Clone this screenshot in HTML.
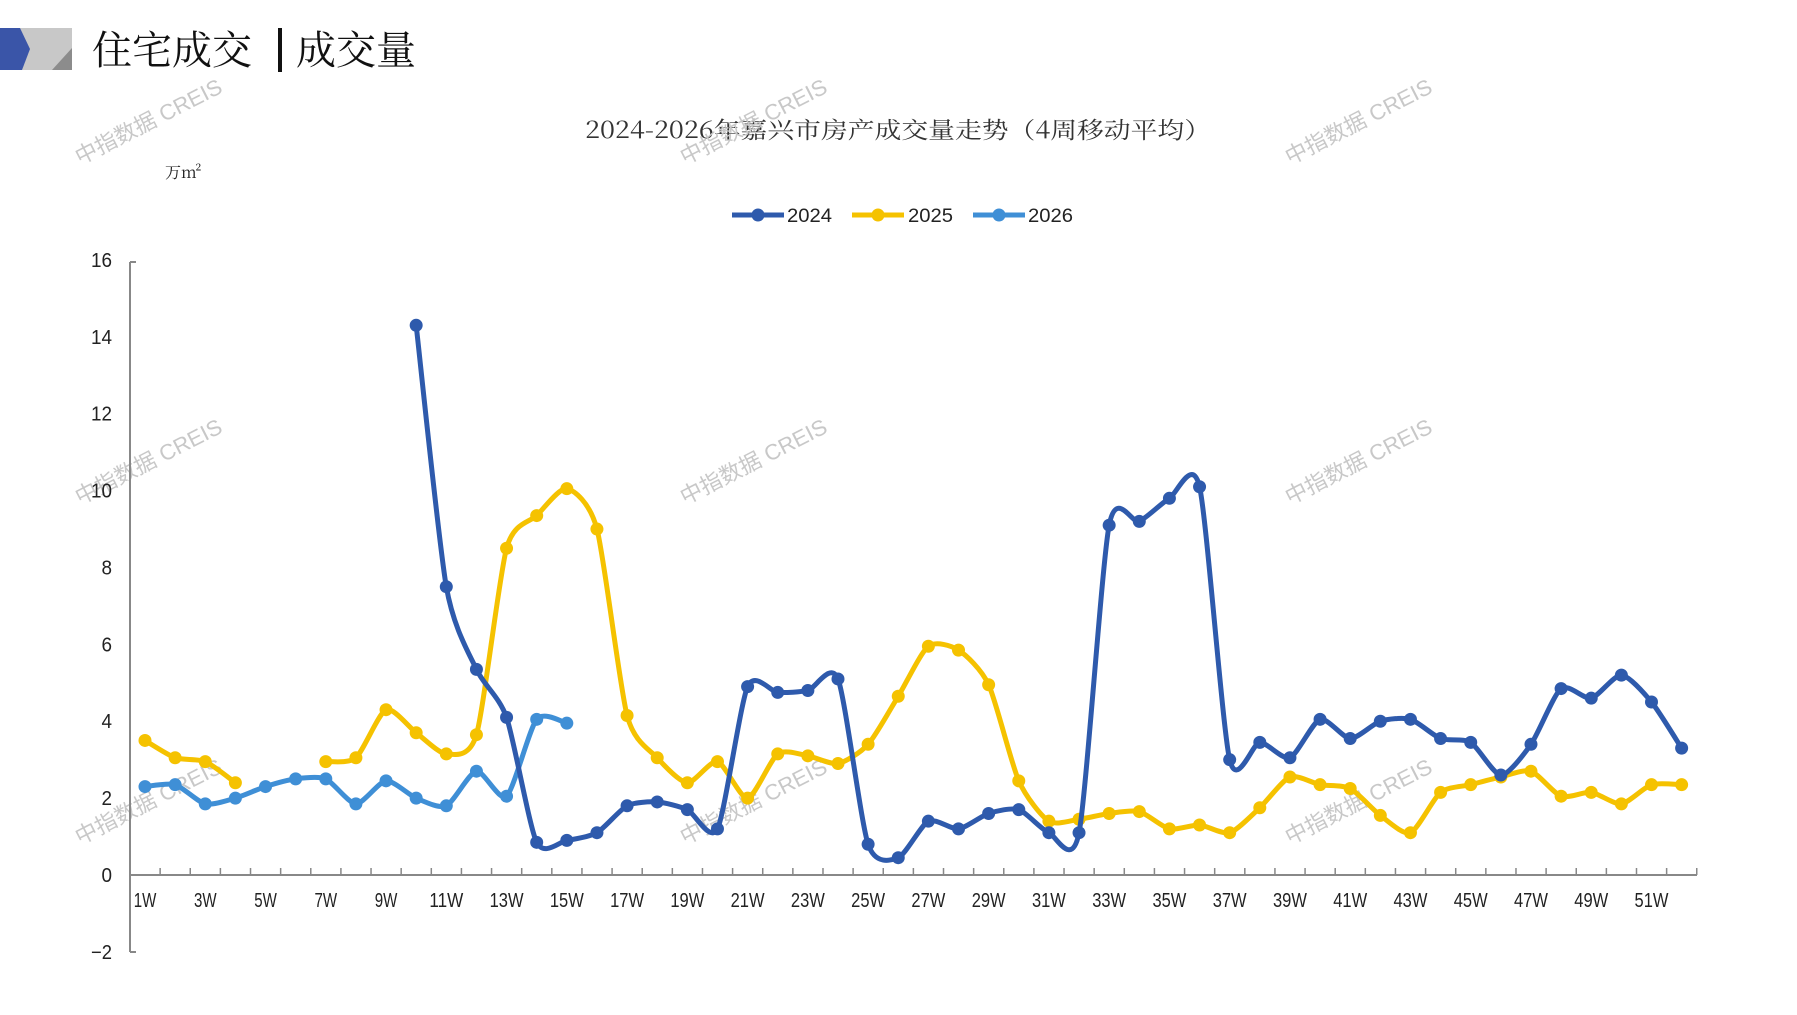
<!DOCTYPE html>
<html><head><meta charset="utf-8">
<style>
body{margin:0;background:#fff;}
svg text{font-family:"Liberation Sans","Noto Sans CJK SC",sans-serif;}
.cjk{font-family:"Noto Serif CJK SC","Noto Sans CJK SC",serif !important;}
.wm{font-family:"Liberation Sans","Noto Sans CJK SC",sans-serif !important;}
</style></head><body>
<svg id="s" width="1797" height="1010" xmlns="http://www.w3.org/2000/svg">
<rect width="1797" height="1010" fill="#fff"/>
<polygon points="0,28 72,28 72,70 0,70" fill="#c8c8c8"/>
<polygon points="0,28 20,28 30,49 22,70 0,70" fill="#3a55a8"/>
<polygon points="72,48 72,70 52,70" fill="#8c8c8c"/>
<text x="92" y="64" font-size="40" class="cjk" fill="#111">住宅成交</text>
<rect x="278" y="28" width="4" height="44" fill="#111"/>
<text x="296" y="64" font-size="40" class="cjk" fill="#111">成交量</text>
<text x="898" y="138" font-size="23" text-anchor="middle" fill="#333" class="cjk" textLength="626" lengthAdjust="spacingAndGlyphs">2024-2026年嘉兴市房产成交量走势（4周移动平均）</text>
<text x="165" y="178" font-size="16" fill="#222" class="cjk">万m²</text>
<g id="wm" fill="#c8c8c8" font-size="22"></g>
<g id="ax"></g>
<g id="plot"></g>
<g font-size="19" fill="#222">
<line x1="732" y1="215" x2="784" y2="215" stroke="#2E5AAC" stroke-width="5"/><circle cx="758" cy="215" r="6.5" fill="#2E5AAC"/><text x="787" y="222" textLength="45" lengthAdjust="spacingAndGlyphs">2024</text>
<line x1="852" y1="215" x2="904" y2="215" stroke="#F5C200" stroke-width="5"/><circle cx="878" cy="215" r="6.5" fill="#F5C200"/><text x="908" y="222" textLength="45" lengthAdjust="spacingAndGlyphs">2025</text>
<line x1="973" y1="215" x2="1025" y2="215" stroke="#3F8FD6" stroke-width="5"/><circle cx="999" cy="215" r="6.5" fill="#3F8FD6"/><text x="1028" y="222" textLength="45" lengthAdjust="spacingAndGlyphs">2026</text>
</g>
</svg>
<script>
var NS="http://www.w3.org/2000/svg";
function el(p,t,a,txt){var e=document.createElementNS(NS,t);for(var k in a)e.setAttribute(k,a[k]);if(txt!=null)e.textContent=txt;p.appendChild(e);return e;}
var X=function(n){return 145+(n-1)*30.13;};
var Y=function(v){return 875-v*38.44;};
var wm=document.getElementById('wm');
[[160,125],[765,125],[1370,125],[160,465],[765,465],[1370,465],[160,805],[765,805],[1370,805]].forEach(function(p){
 el(wm,'text',{x:p[0]-80,y:p[1]+40,transform:'rotate(-27 '+(p[0]-80)+' '+(p[1]+40)+')',class:'wm'},'中指数据 CREIS');});
var ax=document.getElementById('ax');
el(ax,'line',{x1:130,y1:262,x2:130,y2:952,stroke:'#888','stroke-width':2});
el(ax,'line',{x1:130,y1:262,x2:136,y2:262,stroke:'#888','stroke-width':2});
el(ax,'line',{x1:130,y1:952,x2:136,y2:952,stroke:'#888','stroke-width':2});
el(ax,'line',{x1:130,y1:875,x2:1697,y2:875,stroke:'#888','stroke-width':2});
for(var i=0;i<=52;i++){var tx=130+i*30.13;el(ax,'line',{x1:tx,y1:875,x2:tx,y2:868,stroke:'#888','stroke-width':1.5});}
for(var v=-2;v<=16;v+=2){var s=v<0?'−'+(-v):''+v;el(ax,'text',{x:112,y:Y(v)+7,'font-size':20,'text-anchor':'end',fill:'#222',textLength:s.length*10.5,lengthAdjust:'spacingAndGlyphs'},s);}
for(var n=1;n<=51;n+=2){var s=n+'W';el(ax,'text',{x:X(n),y:907,'font-size':20,'text-anchor':'middle',fill:'#222',textLength:s.length*11.3,lengthAdjust:'spacingAndGlyphs'},s);}
var d24={10:14.3,11:7.5,12:5.35,13:4.1,14:0.85,15:0.9,16:1.1,17:1.8,18:1.9,19:1.7,20:1.2,21:4.9,22:4.75,23:4.8,24:5.1,25:0.8,26:0.45,27:1.4,28:1.2,29:1.6,30:1.7,31:1.1,32:1.1,33:9.1,34:9.2,35:9.8,36:10.1,37:3.0,38:3.45,39:3.05,40:4.05,41:3.55,42:4.0,43:4.05,44:3.55,45:3.45,46:2.6,47:3.4,48:4.85,49:4.6,50:5.2,51:4.5,52:3.3};
var d25a={1:3.5,2:3.05,3:2.95,4:2.4};
var d25b={7:2.95,8:3.05,9:4.3,10:3.7,11:3.15,12:3.65,13:8.5,14:9.35,15:10.05,16:9.0,17:4.15,18:3.05,19:2.4,20:2.95,21:2.0,22:3.15,23:3.1,24:2.9,25:3.4,26:4.65,27:5.95,28:5.85,29:4.95,30:2.45,31:1.4,32:1.45,33:1.6,34:1.65,35:1.2,36:1.3,37:1.1,38:1.75,39:2.55,40:2.35,41:2.25,42:1.55,43:1.1,44:2.15,45:2.35,46:2.55,47:2.7,48:2.05,49:2.15,50:1.85,51:2.35,52:2.35};
var d26={1:2.3,2:2.35,3:1.85,4:2.0,5:2.3,6:2.5,7:2.5,8:1.85,9:2.45,10:2.0,11:1.8,12:2.7,13:2.05,14:4.05,15:3.95};
var plot=document.getElementById('plot');
function series(d,c){var k=Object.keys(d).map(Number).sort(function(a,b){return a-b});
 var P=k.map(function(n){return [X(n),Y(d[n])]});
 var s='M'+P[0][0]+','+P[0][1];
 for(var i=0;i<P.length-1;i++){var p0=P[Math.max(i-1,0)],p1=P[i],p2=P[i+1],p3=P[Math.min(i+2,P.length-1)],t=0.12;
  s+=' C'+(p1[0]+(p2[0]-p0[0])*t)+','+(p1[1]+(p2[1]-p0[1])*t)+' '+(p2[0]-(p3[0]-p1[0])*t)+','+(p2[1]-(p3[1]-p1[1])*t)+' '+p2[0]+','+p2[1];}
 el(plot,'path',{d:s,fill:'none',stroke:c,'stroke-width':5,'stroke-linejoin':'round'});
 P.forEach(function(p){el(plot,'circle',{cx:p[0],cy:p[1],r:6.5,fill:c});});}
series(d26,'#3F8FD6');series(d25a,'#F5C200');series(d25b,'#F5C200');series(d24,'#2E5AAC');
</script>
</body></html>
